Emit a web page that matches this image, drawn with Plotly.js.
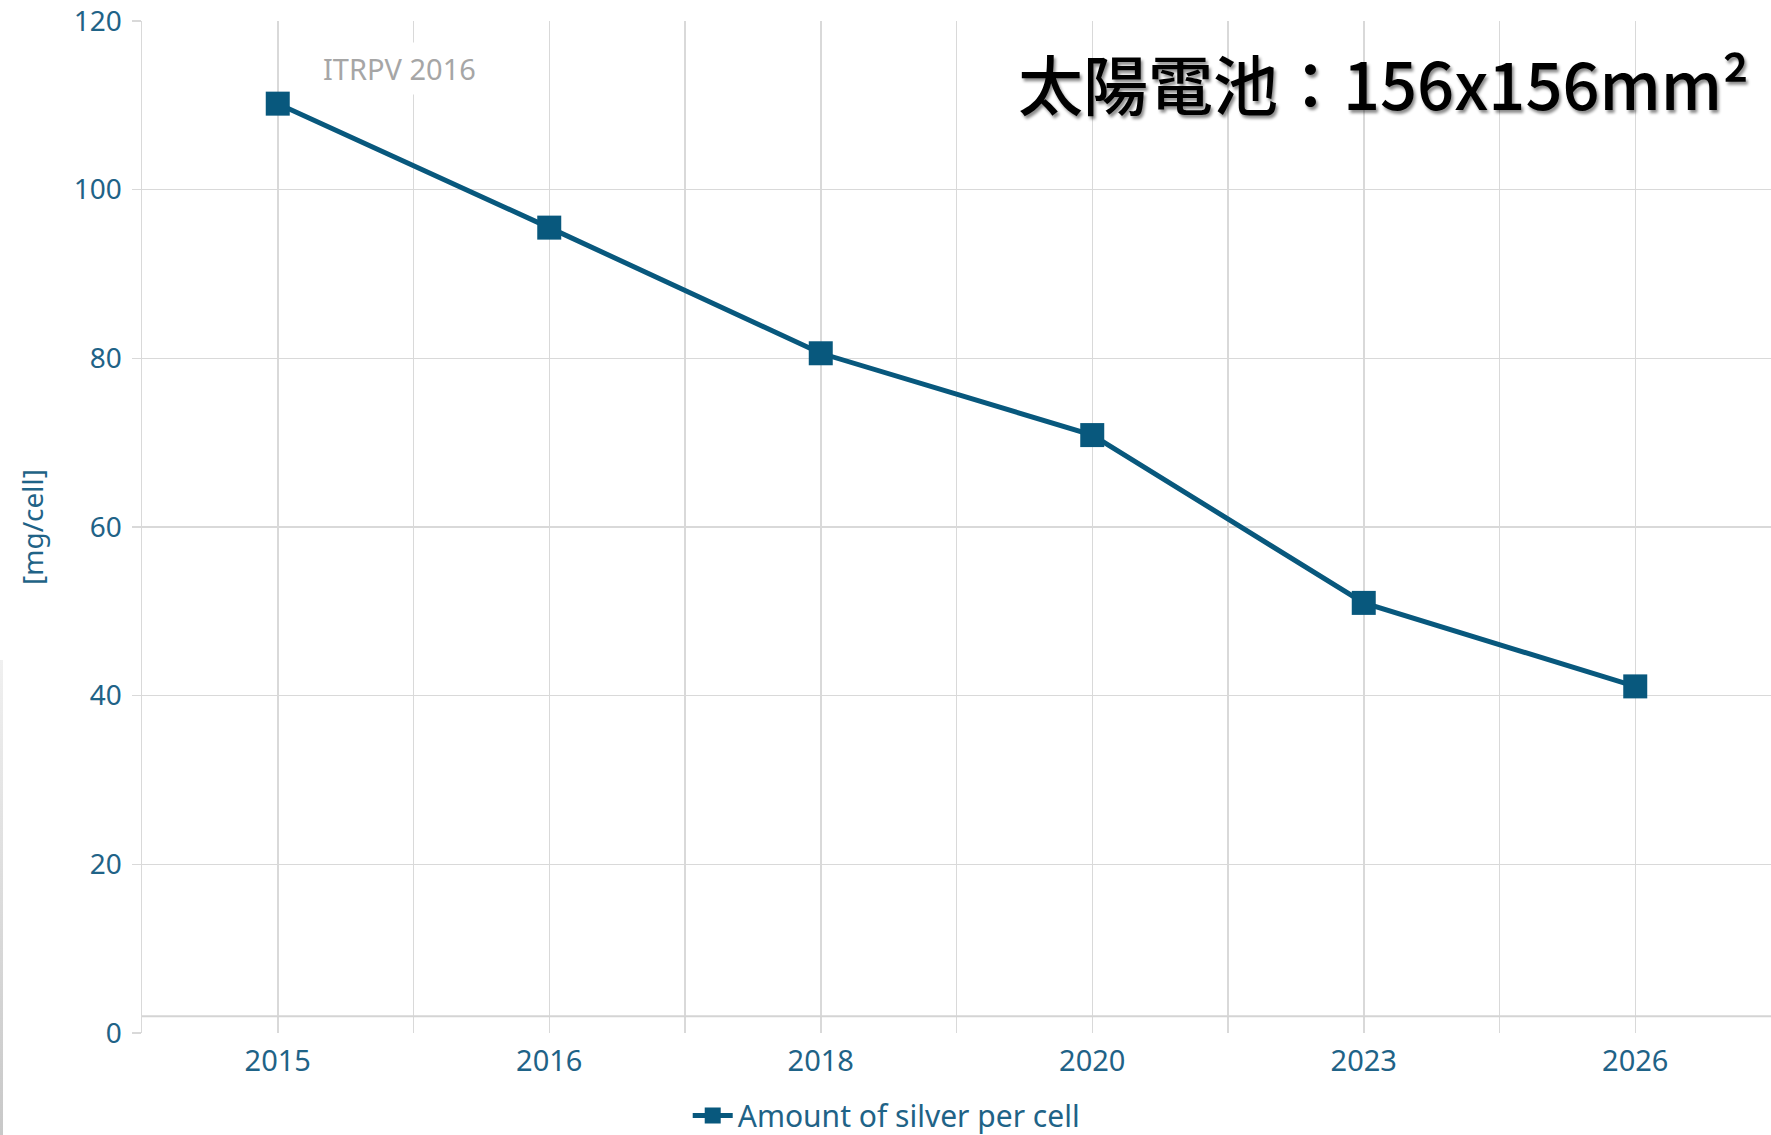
<!DOCTYPE html>
<html>
<head>
<meta charset="utf-8">
<script src="https://cdn.plot.ly/plotly-3.0.1.min.js"></script>
<style>
html,body{margin:0;padding:0;background:#fff;}
#chart{width:1771px;height:1135px;}
#edge{position:absolute;left:0;top:660px;width:3px;height:475px;background:linear-gradient(#f0f0f0,#c8c8c8);}
.annotation[data-index="1"] text{filter:drop-shadow(2px 3px 1.5px rgba(0,0,0,0.45));}
</style>
</head>
<body>
<div id="chart"></div>
<div id="edge"></div>
<script>
const years = ["2015", "2016", "2018", "2020", "2023", "2026"];
const silverPerCell = [110.2, 95.5, 80.6, 70.9, 51.0, 41.1];
const seriesName = "Amount of silver per cell";
const yTicks = [0, 20, 40, 60, 80, 100, 120];

const blue = "#08587d";
const labelColor = "#1f6387";
const gridColor = "#d9d9d9";
const font = "Noto Sans, Open Sans, sans-serif";

const main = {
  x: years, y: silverPerCell, type: "scatter", mode: "lines+markers",
  name: seriesName,
  line: {color: blue, width: 5},
  marker: {symbol: "square", size: 24, color: blue},
  xaxis: "x", yaxis: "y", cliponaxis: false
};
const boundaryHelper = {
  x: years, y: silverPerCell, type: "scatter", mode: "markers",
  marker: {opacity: 0}, showlegend: false, hoverinfo: "skip",
  xaxis: "x2", yaxis: "y"
};

const layout = {
  width: 1771, height: 1135,
  margin: {l: 142, r: 0, t: 21, b: 102, autoexpand: false},
  paper_bgcolor: "#fff", plot_bgcolor: "#fff",
  font: {family: font, color: labelColor, size: 28},
  showlegend: true,
  legend: {orientation: "h", x: 0.335, xanchor: "left", yref: "container", y: 0.04, yanchor: "top",
           font: {size: 30, color: labelColor}, itemwidth: 40},
  xaxis: {type: "category", range: [-0.5, 5.5], showgrid: true, gridcolor: gridColor, gridwidth: 1.5,
          showline: false, zeroline: false, ticks: "", tickfont: {size: 29, color: labelColor},
          ticklabelstandoff: 8},
  xaxis2: {type: "category", overlaying: "x", range: [-0.5, 5.5], tickson: "boundaries",
           showgrid: true, gridcolor: gridColor, gridwidth: 1.5, showticklabels: false,
           ticks: "", showline: false, zeroline: false, side: "bottom"},
  yaxis: {range: [0, 120], tickvals: yTicks, showgrid: true, gridcolor: gridColor, gridwidth: 1.5,
          showline: true, linecolor: gridColor, linewidth: 1.5, zeroline: false,
          ticks: "outside", ticklen: 9, tickcolor: gridColor, tickwidth: 1.5,
          tickfont: {size: 28, color: labelColor}, ticklabelstandoff: 4, ticklabeloverflow: "allow",
          title: {text: "[mg/cell]", font: {size: 28, color: labelColor}, standoff: 22}},
  shapes: [{type: "line", xref: "paper", x0: 0, x1: 1, yref: "y", y0: 2, y1: 2,
            line: {color: "#d4d4d4", width: 2}}],
  annotations: [
    {text: "ITRPV 2016", xref: "x", x: 0.45, yref: "paper", y: 0.953, yanchor: "middle", showarrow: false,
     font: {size: 29, color: "#a6a6a6", family: font}, bgcolor: "#fff", borderpad: 6},
    {text: "太陽電池：156x156mm²", xref: "paper", x: 0.988, xanchor: "right", yref: "paper", y: 0.94,
     yanchor: "middle", showarrow: false,
     font: {size: 65, color: "#000", family: "Noto Sans CJK TC, Noto Sans, sans-serif", weight: 500}}
  ]
};

Plotly.newPlot("chart", [main, boundaryHelper], layout, {displayModeBar: false, staticPlot: true});
</script>
</body>
</html>
